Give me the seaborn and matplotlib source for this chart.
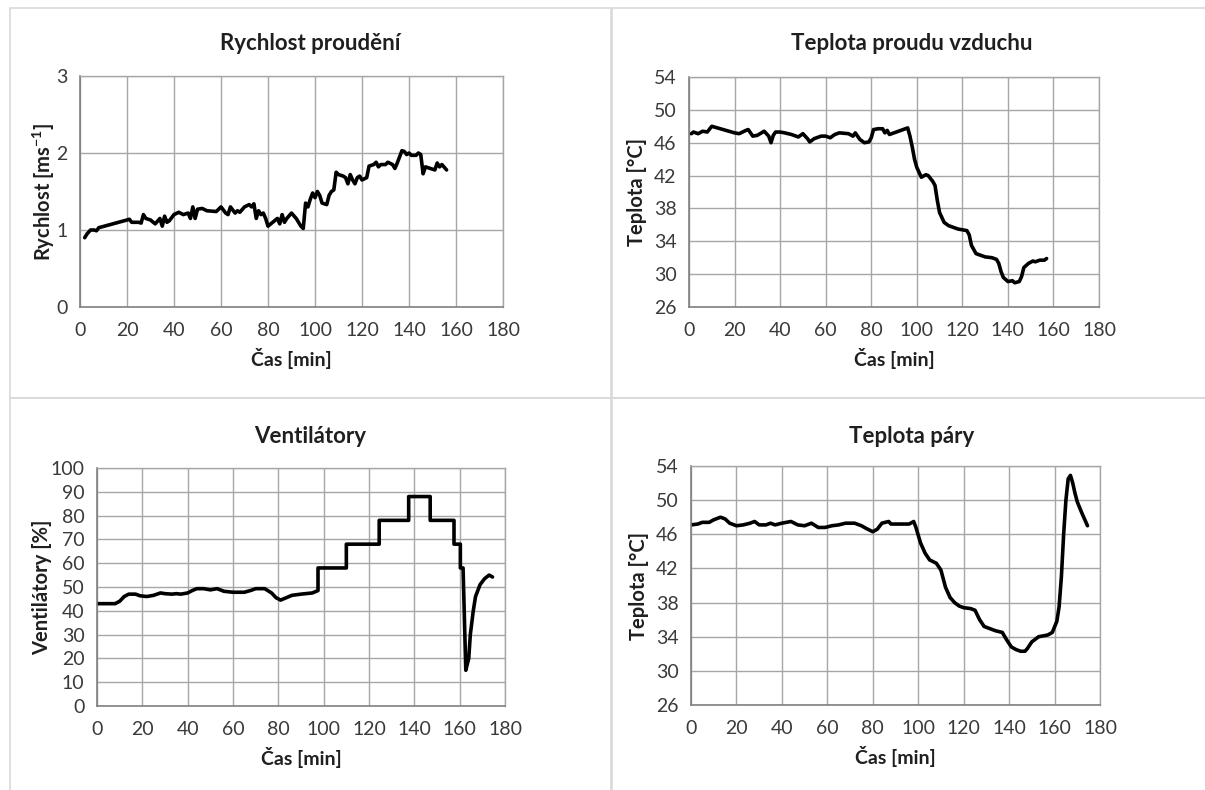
import numpy as np
import pandas as pd
import matplotlib.pyplot as plt
import seaborn as sns
from matplotlib.patches import Rectangle

# ------ Data ------
rych_t = [2, 3, 4.5, 6, 7, 8, 20, 21, 22, 25, 26, 27, 28, 30, 32, 34, 35, 36, 37, 38, 40,
          42, 44, 46, 47, 48, 49, 50, 52, 54, 58, 60, 62, 63, 64, 66, 67, 68, 70, 72, 73,
          74, 75, 76, 77, 78, 79, 80, 82, 84, 85, 86, 87, 88, 90, 92, 94, 95, 96, 97, 98,
          99, 100, 101, 102, 103, 105, 106, 107, 108, 109, 110, 112, 113, 114, 115, 116,
          117, 118, 119, 120, 122, 123, 125, 126, 127, 128, 130, 131, 133, 134, 135, 137,
          138, 139, 140, 141, 143, 144, 145, 146, 147, 149, 151, 152, 153, 154, 156]
rych_v = [0.90, 0.95, 1.00, 1.00, 0.99, 1.03, 1.13, 1.14, 1.10, 1.10, 1.09, 1.20, 1.15,
          1.13, 1.08, 1.15, 1.05, 1.18, 1.10, 1.12, 1.20, 1.23, 1.20, 1.22, 1.15, 1.30,
          1.15, 1.27, 1.28, 1.25, 1.24, 1.30, 1.22, 1.20, 1.30, 1.22, 1.25, 1.23, 1.30,
          1.33, 1.30, 1.34, 1.15, 1.25, 1.20, 1.22, 1.15, 1.05, 1.10, 1.15, 1.08, 1.20,
          1.10, 1.15, 1.22, 1.15, 1.05, 1.02, 1.35, 1.30, 1.40, 1.48, 1.42, 1.50, 1.45,
          1.35, 1.33, 1.45, 1.50, 1.52, 1.75, 1.72, 1.70, 1.68, 1.60, 1.72, 1.65, 1.60,
          1.68, 1.70, 1.65, 1.68, 1.83, 1.85, 1.88, 1.82, 1.85, 1.85, 1.88, 1.85, 1.80,
          1.87, 2.03, 2.02, 1.98, 2.00, 1.97, 1.97, 2.00, 1.98, 1.73, 1.82, 1.80, 1.78,
          1.87, 1.82, 1.85, 1.78]

vzd_t = [1, 2, 4, 6, 8, 10, 20, 22, 25, 26, 28, 30, 33, 35, 36, 37, 38, 40, 42, 45, 48,
         50, 52, 53, 55, 58, 60, 62, 64, 66, 70, 72, 73, 75, 77, 79, 80, 81, 83, 85, 86,
         87, 88, 90, 94, 96, 97, 98, 99, 100, 102, 104, 105, 107, 108, 109, 110, 112, 114,
         116, 118, 120, 122, 123, 124, 126, 128, 130, 133, 135, 136, 137, 138, 140, 142,
         143, 145, 146, 147, 149, 151, 152, 154, 156, 157]
vzd_v = [47.1, 47.3, 47.1, 47.4, 47.3, 48.0, 47.2, 47.1, 47.5, 47.6, 46.8, 46.9, 47.4,
         46.8, 46.0, 46.9, 47.3, 47.3, 47.2, 47.0, 46.7, 47.1, 46.5, 46.1, 46.5, 46.8,
         46.8, 46.6, 47.0, 47.2, 47.1, 46.8, 47.2, 46.4, 46.0, 46.1, 46.6, 47.6, 47.7,
         47.7, 47.2, 47.5, 47.0, 47.2, 47.6, 47.8, 46.8, 45.5, 44.0, 43.0, 41.8, 42.1,
         42.0, 41.3, 40.8, 39.0, 37.5, 36.3, 35.9, 35.7, 35.5, 35.4, 35.3, 34.8, 33.5,
         32.5, 32.3, 32.1, 32.0, 31.8, 31.3, 30.3, 29.6, 29.1, 29.2, 28.95, 29.1, 29.7,
         30.8, 31.3, 31.6, 31.5, 31.7, 31.7, 31.9]

vent_t = [0, 8, 10, 12, 14, 17, 19, 22, 25, 28, 30, 33, 35, 37, 40, 42, 44, 47, 50, 53,
          56, 60, 65, 68, 70, 74, 77, 79, 81, 83, 86, 90, 95, 97.5, 97.5, 110, 110, 124.5,
          124.5, 137.5, 137.5, 147, 147, 157.5, 157.5, 160.3, 160.3, 161.5, 162.7, 164,
          164.7, 166, 167, 169, 171, 173, 174.5]
vent_v = [43, 43, 44, 46, 47, 47, 46.3, 46, 46.5, 47.5, 47.2, 47, 47.2, 47, 47.5, 48.5,
          49.3, 49.3, 48.8, 49.3, 48.2, 47.8, 47.8, 48.6, 49.3, 49.3, 47.5, 45.5, 44.5,
          45.3, 46.5, 47, 47.5, 48.5, 58, 58, 68, 68, 78, 78, 88, 88, 78, 78, 68, 68, 58,
          58, 15, 20, 30, 40, 46, 51, 53.5, 55, 54.2]

para_t = [0, 3, 5, 8, 10, 13, 15, 17, 20, 23, 26, 28, 30, 33, 35, 37, 40, 44, 47, 50, 53,
          56, 59, 62, 65, 68, 72, 75, 77, 80, 82, 84, 87, 88, 92, 96, 98, 99, 101, 103,
          105, 108, 110, 112, 114, 116, 118, 120, 123, 125, 127, 129, 131, 134, 137, 139,
          141, 143, 145, 147, 148, 150, 153, 157, 159, 161, 162, 163, 164, 165, 166, 167,
          168, 169, 170, 172, 174.5]
para_v = [47.1, 47.2, 47.4, 47.4, 47.7, 48.0, 47.8, 47.3, 47.0, 47.1, 47.3, 47.5, 47.1,
          47.1, 47.3, 47.1, 47.3, 47.5, 47.1, 47.0, 47.3, 46.8, 46.8, 47.0, 47.1, 47.3,
          47.3, 47.0, 46.7, 46.3, 46.6, 47.3, 47.5, 47.2, 47.2, 47.2, 47.5, 46.8, 45.0,
          43.8, 43.0, 42.6, 41.8, 39.8, 38.6, 38.0, 37.6, 37.4, 37.3, 37.1, 36.0, 35.2,
          35.0, 34.7, 34.5, 33.6, 32.8, 32.5, 32.3, 32.3, 32.6, 33.4, 34.0, 34.2, 34.5,
          35.8, 37.5, 41.0, 46.0, 50.0, 52.5, 52.9, 52.0, 50.8, 49.8, 48.5, 47.0]

titles = ['Rychlost proudění', 'Teplota proudu vzduchu', 'Ventilátory', 'Teplota páry']
ylabels = ['Rychlost [ms$^{\\mathbf{-1}}$]', 'Teplota [°C]', 'Ventilátory [%]', 'Teplota [°C]']
xlabel = 'Čas [min]'

sns.set_theme(style='white')
plt.rcParams['font.family'] = ['Lato', 'DejaVu Sans']
plt.rcParams['mathtext.fontset'] = 'custom'
plt.rcParams['mathtext.rm'] = 'Lato'
plt.rcParams['mathtext.bf'] = 'Lato:bold'

W, H = 1205, 790
fig = plt.figure(figsize=(W / 100, H / 100), dpi=100)

# light chart-area frames like the spreadsheet charts
frames = [(10, 8, 601, 390), (612, 8, 600, 390), (10, 398, 601, 400), (612, 398, 600, 400)]
for x0, y0, w, h in frames:
    fig.patches.append(Rectangle((x0 / W, 1 - (y0 + h) / H), w / W, h / H,
                                 transform=fig.transFigure, fill=False,
                                 edgecolor='#d9d9d9', linewidth=1.2))

# plot areas in pixels: left, top, right, bottom
boxes = [(80, 76, 503, 307), (689, 77, 1099, 307), (97, 468, 505, 706), (691, 466, 1100, 705)]
series = [(rych_t, rych_v), (vzd_t, vzd_v), (vent_t, vent_v), (para_t, para_v)]
ylims = [(0, 3, 1), (26, 54, 4), (0, 100, 10), (26, 54, 4)]
title_y = [43, 43, 437, 437]
ylabel_x = [-0.055, -0.102, -0.110, -0.102]

for i in range(4):
    l, t, r, b = boxes[i]
    ax = fig.add_axes([l / W, 1 - b / H, (r - l) / W, (b - t) / H])
    df = pd.DataFrame({'t': series[i][0], 'v': series[i][1]})
    sns.lineplot(data=df, x='t', y='v', ax=ax, color='black', linewidth=2.6,
                 estimator=None, sort=False)
    lo, hi, step = ylims[i]
    ax.set_xlim(0, 180)
    ax.set_ylim(lo, hi)
    ax.set_xticks(np.arange(0, 181, 20))
    ax.set_yticks(np.arange(lo, hi + 0.1, step))
    ax.grid(True, color='#a6a6a6', linewidth=1.0)
    ax.set_axisbelow(True)
    for side in ['top', 'right']:
        ax.spines[side].set_color('#a6a6a6')
        ax.spines[side].set_linewidth(1.0)
    for side in ['left', 'bottom']:
        ax.spines[side].set_color('#808080')
        ax.spines[side].set_linewidth(1.2)
    ax.tick_params(axis='x', labelsize=14, colors='#3a3a3a', length=0, pad=11)
    ax.tick_params(axis='y', labelsize=14, colors='#3a3a3a', length=0, pad=9)
    ax.set_xlabel(xlabel, fontsize=14, fontweight='bold', color='#1f1f1f', labelpad=6)
    ax.set_ylabel(ylabels[i], fontsize=14.5, fontweight='bold', color='#1f1f1f')
    ax.yaxis.set_label_coords(ylabel_x[i], 0.5)
    cx = (frames[i][0] + frames[i][0] + frames[i][2]) / 2
    fig.text(cx / W, 1 - title_y[i] / H, titles[i], ha='center', va='center',
             fontsize=16, fontweight='bold', color='#1f1f1f')

fig.savefig('out.png', dpi=100)
